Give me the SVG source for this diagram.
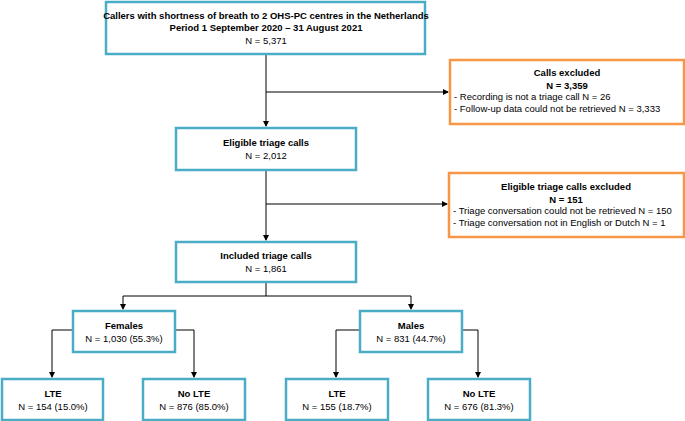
<svg xmlns="http://www.w3.org/2000/svg" width="685" height="421" viewBox="0 0 685 421">
<style>
.b{fill:#fff;stroke:#4bacc6;stroke-width:2.5}
.o{fill:#fff;stroke:#f79646;stroke-width:2.5}
text{font-family:"Liberation Sans",Arial,sans-serif;font-size:9.5px;fill:#000}
.c{text-anchor:middle}.h{font-weight:bold}
.l{fill:none;stroke:#000;stroke-width:1}
</style>
<defs><marker id="a" markerWidth="6" markerHeight="6" refX="5" refY="3" orient="auto" markerUnits="userSpaceOnUse"><path d="M0,0L6,3L0,6z" fill="#000"/></marker></defs>
<g id="connectors">
<path class="l" d="M266,55V126" marker-end="url(#a)"/>
<path class="l" d="M266,92H448" marker-end="url(#a)"/>
<path class="l" d="M266,170V240" marker-end="url(#a)"/>
<path class="l" d="M266,204H447" marker-end="url(#a)"/>
<path class="l" d="M266,283V296M123,296H411M123,296V309" marker-end="url(#a)"/>
<path class="l" d="M411,296V309" marker-end="url(#a)"/>
<path class="l" d="M73,330H52V377" marker-end="url(#a)"/>
<path class="l" d="M176,330H194V377" marker-end="url(#a)"/>
<path class="l" d="M360,330H336V377" marker-end="url(#a)"/>
<path class="l" d="M462,330H478V377" marker-end="url(#a)"/>
</g>
<g id="n1"><rect class="b" x="106" y="2" width="319" height="52"/><text class="c h" x="266" y="19">Callers with shortness of breath to 2 OHS-PC centres in the Netherlands</text><text class="c h" x="266" y="31">Period 1 September 2020 – 31 August 2021</text><text class="c" x="266" y="44">N = 5,371</text></g>
<g id="n2"><rect class="o" x="450" y="60" width="234" height="64"/><text class="c h" x="567" y="76">Calls excluded</text><text class="c h" x="567" y="89">N = 3,359</text><text x="454" y="100">- Recording is not a triage call N = 26</text><text x="454" y="112">- Follow-up data could not be retrieved N = 3,333</text></g>
<g id="n3"><rect class="b" x="176" y="128" width="180" height="42"/><text class="c h" x="266" y="146">Eligible triage calls</text><text class="c" x="266" y="159">N = 2,012</text></g>
<g id="n4"><rect class="o" x="449" y="173" width="235" height="64"/><text class="c h" x="566" y="190">Eligible triage calls excluded</text><text class="c h" x="566" y="203">N = 151</text><text x="453" y="214">- Triage conversation could not be retrieved N = 150</text><text x="453" y="226">- Triage conversation not in English or Dutch N = 1</text></g>
<g id="n5"><rect class="b" x="176" y="242" width="180" height="40"/><text class="c h" x="266" y="259">Included triage calls</text><text class="c" x="266" y="272">N = 1,861</text></g>
<g id="n6"><rect class="b" x="73" y="311" width="102" height="41"/><text class="c h" x="124" y="329">Females</text><text class="c" x="124" y="342">N = 1,030 (55.3%)</text></g>
<g id="n7"><rect class="b" x="360" y="311" width="102" height="41"/><text class="c h" x="411" y="329">Males</text><text class="c" x="411" y="342">N = 831 (44.7%)</text></g>
<g id="n8"><rect class="b" x="2" y="379" width="101" height="41"/><text class="c h" x="53" y="397">LTE</text><text class="c" x="53" y="410">N = 154 (15.0%)</text></g>
<g id="n9"><rect class="b" x="143" y="379" width="102" height="41"/><text class="c h" x="194" y="397">No LTE</text><text class="c" x="194" y="410">N = 876 (85.0%)</text></g>
<g id="n10"><rect class="b" x="286" y="379" width="102" height="41"/><text class="c h" x="337" y="397">LTE</text><text class="c" x="337" y="410">N = 155 (18.7%)</text></g>
<g id="n11"><rect class="b" x="428" y="379" width="102" height="41"/><text class="c h" x="479" y="397">No LTE</text><text class="c" x="479" y="410">N = 676 (81.3%)</text></g>
</svg>
